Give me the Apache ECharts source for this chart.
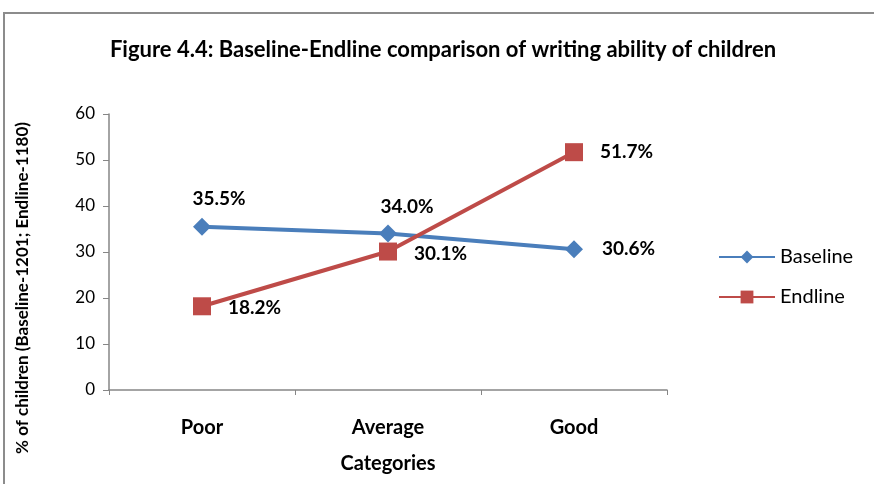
<!DOCTYPE html>
<html>
<head>
<meta charset="utf-8">
<script src="https://cdn.jsdelivr.net/npm/echarts@6/dist/echarts.min.js"></script>
<style>
  html, body { margin: 0; padding: 0; background: #fff; }
  #chart { width: 874px; height: 484px; }
</style>
</head>
<body>
<div id="chart"></div>
<script>
// Writing ability of children, baseline vs endline (% of children)
const categories = ['Poor', 'Average', 'Good'];
const baseline = [35.5, 34.0, 30.6];
const endline = [18.2, 30.1, 51.7];
const yTicks = { min: 0, max: 60, interval: 10 };

const FONT = 'Lato, "Open Sans", sans-serif';

const baseLabelPos = [
  { position: 'top', offset: [17, -4] },
  { position: 'top', offset: [19, -3] },
  { position: 'right', offset: [14, 0] }
];
const endLabelPos = [
  { position: 'right', offset: [12, 2] },
  { position: 'right', offset: [12, 2] },
  { position: 'right', offset: [12, 0] }
];

const labelStyle = { show: true, fontFamily: FONT, fontWeight: 'bold', fontSize: 19, color: '#000', formatter: p => p.value.toFixed(1) + '%' };

const chart = echarts.init(document.getElementById('chart'), null, { renderer: 'canvas' });
chart.setOption({
  backgroundColor: '#fff',
  animation: false,
  graphic: [{
    type: 'rect',
    shape: { x: 4, y: 13, width: 900, height: 500 },
    style: { fill: 'none', stroke: '#8c8c8c', lineWidth: 2 },
    silent: true
  }],
  title: {
    text: 'Figure 4.4: Baseline-Endline comparison of writing ability of children',
    left: 438, top: 34, textAlign: 'center',
    textStyle: { fontFamily: FONT, fontWeight: 'bold', fontSize: 22, color: '#000' }
  },
  legend: {
    orient: 'vertical', left: 713, top: 242, itemGap: 20,
    itemWidth: 56, itemHeight: 16,
    textStyle: { fontFamily: FONT, fontSize: 20, color: '#000' },
    data: ['Baseline', 'Endline']
  },
  grid: { left: 109, right: 207, top: 114, bottom: 94, containLabel: false },
  xAxis: {
    type: 'category', data: categories, boundaryGap: true,
    name: 'Categories', nameLocation: 'middle', nameGap: 64,
    nameTextStyle: { fontFamily: FONT, fontWeight: 'bold', fontSize: 20, color: '#000' },
    axisLine: { lineStyle: { color: '#868686', width: 1.5 } },
    axisTick: { show: true, alignWithLabel: false, length: 5, lineStyle: { color: '#868686' } },
    axisLabel: { fontFamily: FONT, fontWeight: 'bold', fontSize: 20, color: '#000', margin: 28 }
  },
  yAxis: {
    type: 'value', min: yTicks.min, max: yTicks.max, interval: yTicks.interval,
    name: '% of children (Baseline-1201; Endline-1180)', nameLocation: 'middle', nameGap: 78,
    nameTextStyle: { fontFamily: FONT, fontWeight: 'bold', fontSize: 17, color: '#000', padding: [0, 72, 0, 0] },
    axisLine: { show: true, lineStyle: { color: '#868686', width: 1.5 } },
    axisTick: { show: true, length: 6, lineStyle: { color: '#868686' } },
    axisLabel: { fontFamily: FONT, fontSize: 17, color: '#000', margin: 14 },
    splitLine: { show: false }
  },
  series: [
    {
      name: 'Baseline', type: 'line', data: baseline.map((v, i) => ({ value: v, label: baseLabelPos[i] })),
      symbol: 'diamond', symbolSize: 18,
      lineStyle: { color: '#4a7ebb', width: 4 },
      itemStyle: { color: '#4a7ebb' },
      label: labelStyle, z: 2
    },
    {
      name: 'Endline', type: 'line', data: endline.map((v, i) => ({ value: v, label: endLabelPos[i] })),
      symbol: 'rect', symbolSize: 18,
      lineStyle: { color: '#be4b48', width: 4 },
      itemStyle: { color: '#be4b48' },
      label: labelStyle, z: 3
    }
  ]
});
</script>
</body>
</html>
